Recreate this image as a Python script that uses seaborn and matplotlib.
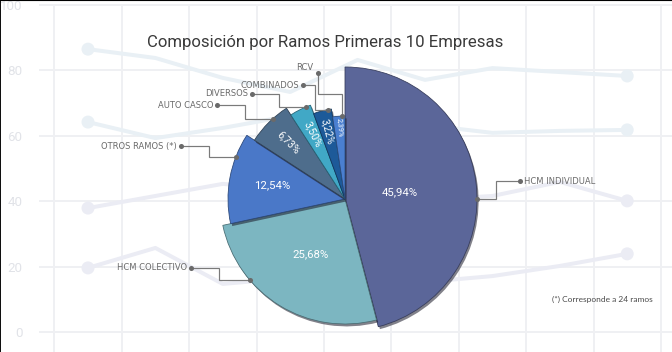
import matplotlib
matplotlib.use("Agg")
import numpy as np
import pandas as pd
import matplotlib.pyplot as plt
import matplotlib.patheffects as pe
from matplotlib.patches import Wedge
import seaborn as sns

# datos del grafico de torta
ramos = ["HCM INDIVIDUAL", "HCM COLECTIVO", "OTROS RAMOS (*)", "AUTO CASCO",
         "DIVERSOS", "COMBINADOS", "RCV"]
porcentajes = [45.94, 25.68, 12.54, 6.73, 3.50, 3.22, 2.39]
colores = ["#5b6699", "#7cb6c1", "#4a78c8", "#4e6d8c", "#41a8c6", "#1d5a99", "#4a7fd0"]
nota = "(*) Corresponde a 24 ramos"
titulo = "Composición por Ramos Primeras 10 Empresas"

# lineas tenues del fondo
fondo_x = list(range(9))
serie_a = [86.5, 83.8, 77.7, 73.4, 83.2, 77.1, 80.7, 79.5, 78.3]
serie_b = [64.2, 59.3, 62.4, 66.1, 65.4, 63.3, 60.9, 61.5, 61.8]
serie_c = [37.9, 41.6, 45.3, 43.4, 41.9, 40.4, 41.6, 45.9, 40.1]
serie_d = [19.6, 25.7, 14.7, 16.5, 15.9, 15.3, 17.1, 20.2, 23.9]
fondo_ticks = [0, 20, 40, 60, 80, 100]

# layout (pixeles)
W, H = 672, 352
CX, CY = 345, 199
radios = [132, 125, 117, 108, 100, 91, 83]
frac_txt = [0.42, 0.52, 0.63, 0.74, 0.72, 0.77, 0.86]
size_txt = [8.5, 8.5, 8.5, 8, 8, 7.5, 5.5]
ang_guia = [90, 229.8, 291, 318, 337.3, 349.4, 358]
punto_lbl = [(520, 181), (191, 268), (181, 146), (217, 105), (252, 94), (303, 85), (318, 73)]
codo = [496, 219, 209, 245, 279, 315, 94]

sns.set_theme(style="white")
plt.rcParams['font.family'] = ['Roboto', 'DejaVu Sans']

fig = plt.figure(figsize=(W / 96, H / 96), dpi=96)
fig.patch.set_facecolor("white")

# ---- fondo
ax = fig.add_axes([39 / W, 0, (W - 39) / W, 1])
df = pd.DataFrame({
    "x": fondo_x * 4,
    "valor": serie_a + serie_b + serie_c + serie_d,
    "serie": ["a"] * 9 + ["b"] * 9 + ["c"] * 9 + ["d"] * 9,
})
pal = {"a": "#e9f0f5", "b": "#e9f0f5", "c": "#ebecf4", "d": "#ebecf4"}
grid_c = "#eff0f3"
for v in fondo_ticks:
    ax.axhline(v, color=grid_c, lw=1.5, zorder=0)
ax.vlines(np.arange(-0.5, 9), -6.2, 100, color=grid_c, lw=1.5, zorder=0)
sns.lineplot(data=df, x="x", y="valor", hue="serie", palette=pal, lw=3.0,
             legend=False, ax=ax, zorder=1)
ext = df[df["x"].isin([fondo_x[0], fondo_x[-1]])]
sns.scatterplot(data=ext, x="x", y="valor", hue="serie", palette=pal, s=95,
                linewidth=0, legend=False, ax=ax, zorder=2)
ax.set_xlim((39 - 88) / 67.4, (W - 88) / 67.4)
ax.set_ylim((332 - H) / 3.27, 332 / 3.27)
ax.set_yticks(fondo_ticks)
ax.set_xticks([])
ax.tick_params(axis="y", length=0, pad=12.5, labelsize=10, labelcolor="#e1e3e8")
ax.set_xlabel("")
ax.set_ylabel("")
for s in ax.spines.values():
    s.set_visible(False)

# ---- torta
ap = fig.add_axes([0, 0, 1, 1])
ap.set_xlim(0, W)
ap.set_ylim(H, 0)
ap.axis("off")
ap.patch.set_alpha(0)

def oscuro(c, f=0.6):
    r, g, b = matplotlib.colors.to_rgb(c)
    return (r * f, g * f, b * f)

lbl_font = ["Liberation Sans Narrow", "DejaVu Sans"]
inicio = 0.0
for i, (nombre, p) in enumerate(zip(ramos, porcentajes)):
    span = p / 100 * 360
    fin = inicio + span
    w = Wedge((CX, CY), radios[i], inicio - 90, fin - 90, facecolor=colores[i],
              edgecolor=oscuro(colores[i]), lw=0.6, zorder=3 + i * 0.1)
    w.set_path_effects([pe.SimplePatchShadow(offset=(1.2, -1.8), shadow_rgbFace="#1a1a2a", alpha=0.55),
                        pe.Normal()])
    ap.add_patch(w)

    # etiqueta de porcentaje
    mid = inicio + span / 2
    th = np.radians(mid - 90)
    rt = radios[i] * frac_txt[i]
    tx, ty = CX + rt * np.cos(th), CY + rt * np.sin(th)
    am = np.radians(mid)
    rot = np.degrees(np.arctan2(-np.cos(am), -np.sin(am))) if p < 10 else 0
    ap.text(tx, ty, f"{p:.2f}".replace(".", ",") + "%", color="white",
            fontsize=size_txt[i], ha="center", va="center", rotation=rot,
            rotation_mode="anchor", zorder=6)

    # guia
    tg = np.radians(ang_guia[i] - 90)
    ex, ey = CX + radios[i] * np.cos(tg), CY + radios[i] * np.sin(tg)
    lx, ly = punto_lbl[i]
    if nombre == "RCV":
        xs = [lx, lx, ex, ex]
        ys = [ly, codo[i], codo[i], ey]
    else:
        xs = [lx, codo[i], codo[i], ex]
        ys = [ly, ly, ey, ey]
    ap.plot(xs, ys, color="#7a7a7a", lw=0.9, zorder=7, solid_joinstyle="miter")
    ap.plot([lx, ex], [ly, ey], "o", color="#6a6a6a", ms=3.8, mec="none", zorder=8)
    if nombre == "HCM INDIVIDUAL":
        ap.text(lx + 4, ly, nombre, ha="left", va="center", fontsize=6.3,
                color="#6a6a6a", family=lbl_font, zorder=8)
    elif nombre == "RCV":
        ap.text(lx - 5, ly - 6, nombre, ha="right", va="center", fontsize=6.3,
                color="#6a6a6a", family=lbl_font, zorder=8)
    else:
        ap.text(lx - 4, ly, nombre, ha="right", va="center", fontsize=6.3,
                color="#6a6a6a", family=lbl_font, zorder=8)
    inicio = fin

fig.text(325 / W, 1 - 42 / H, titulo, ha="center", va="center", fontsize=12.6,
         color="#3a3a3a")
fig.text(552 / W, 1 - 299 / H, nota, ha="left", va="center", fontsize=6.3,
         color="#4a4a4a", family=["Lato", "DejaVu Sans"])

# borde negro de la captura
fig.add_artist(plt.Line2D([0, 1], [1, 1], transform=fig.transFigure, color="black", lw=1.6))
fig.add_artist(plt.Line2D([0, 0], [0, 1], transform=fig.transFigure, color="black", lw=1.4))

fig.savefig("out.png", dpi=96)
